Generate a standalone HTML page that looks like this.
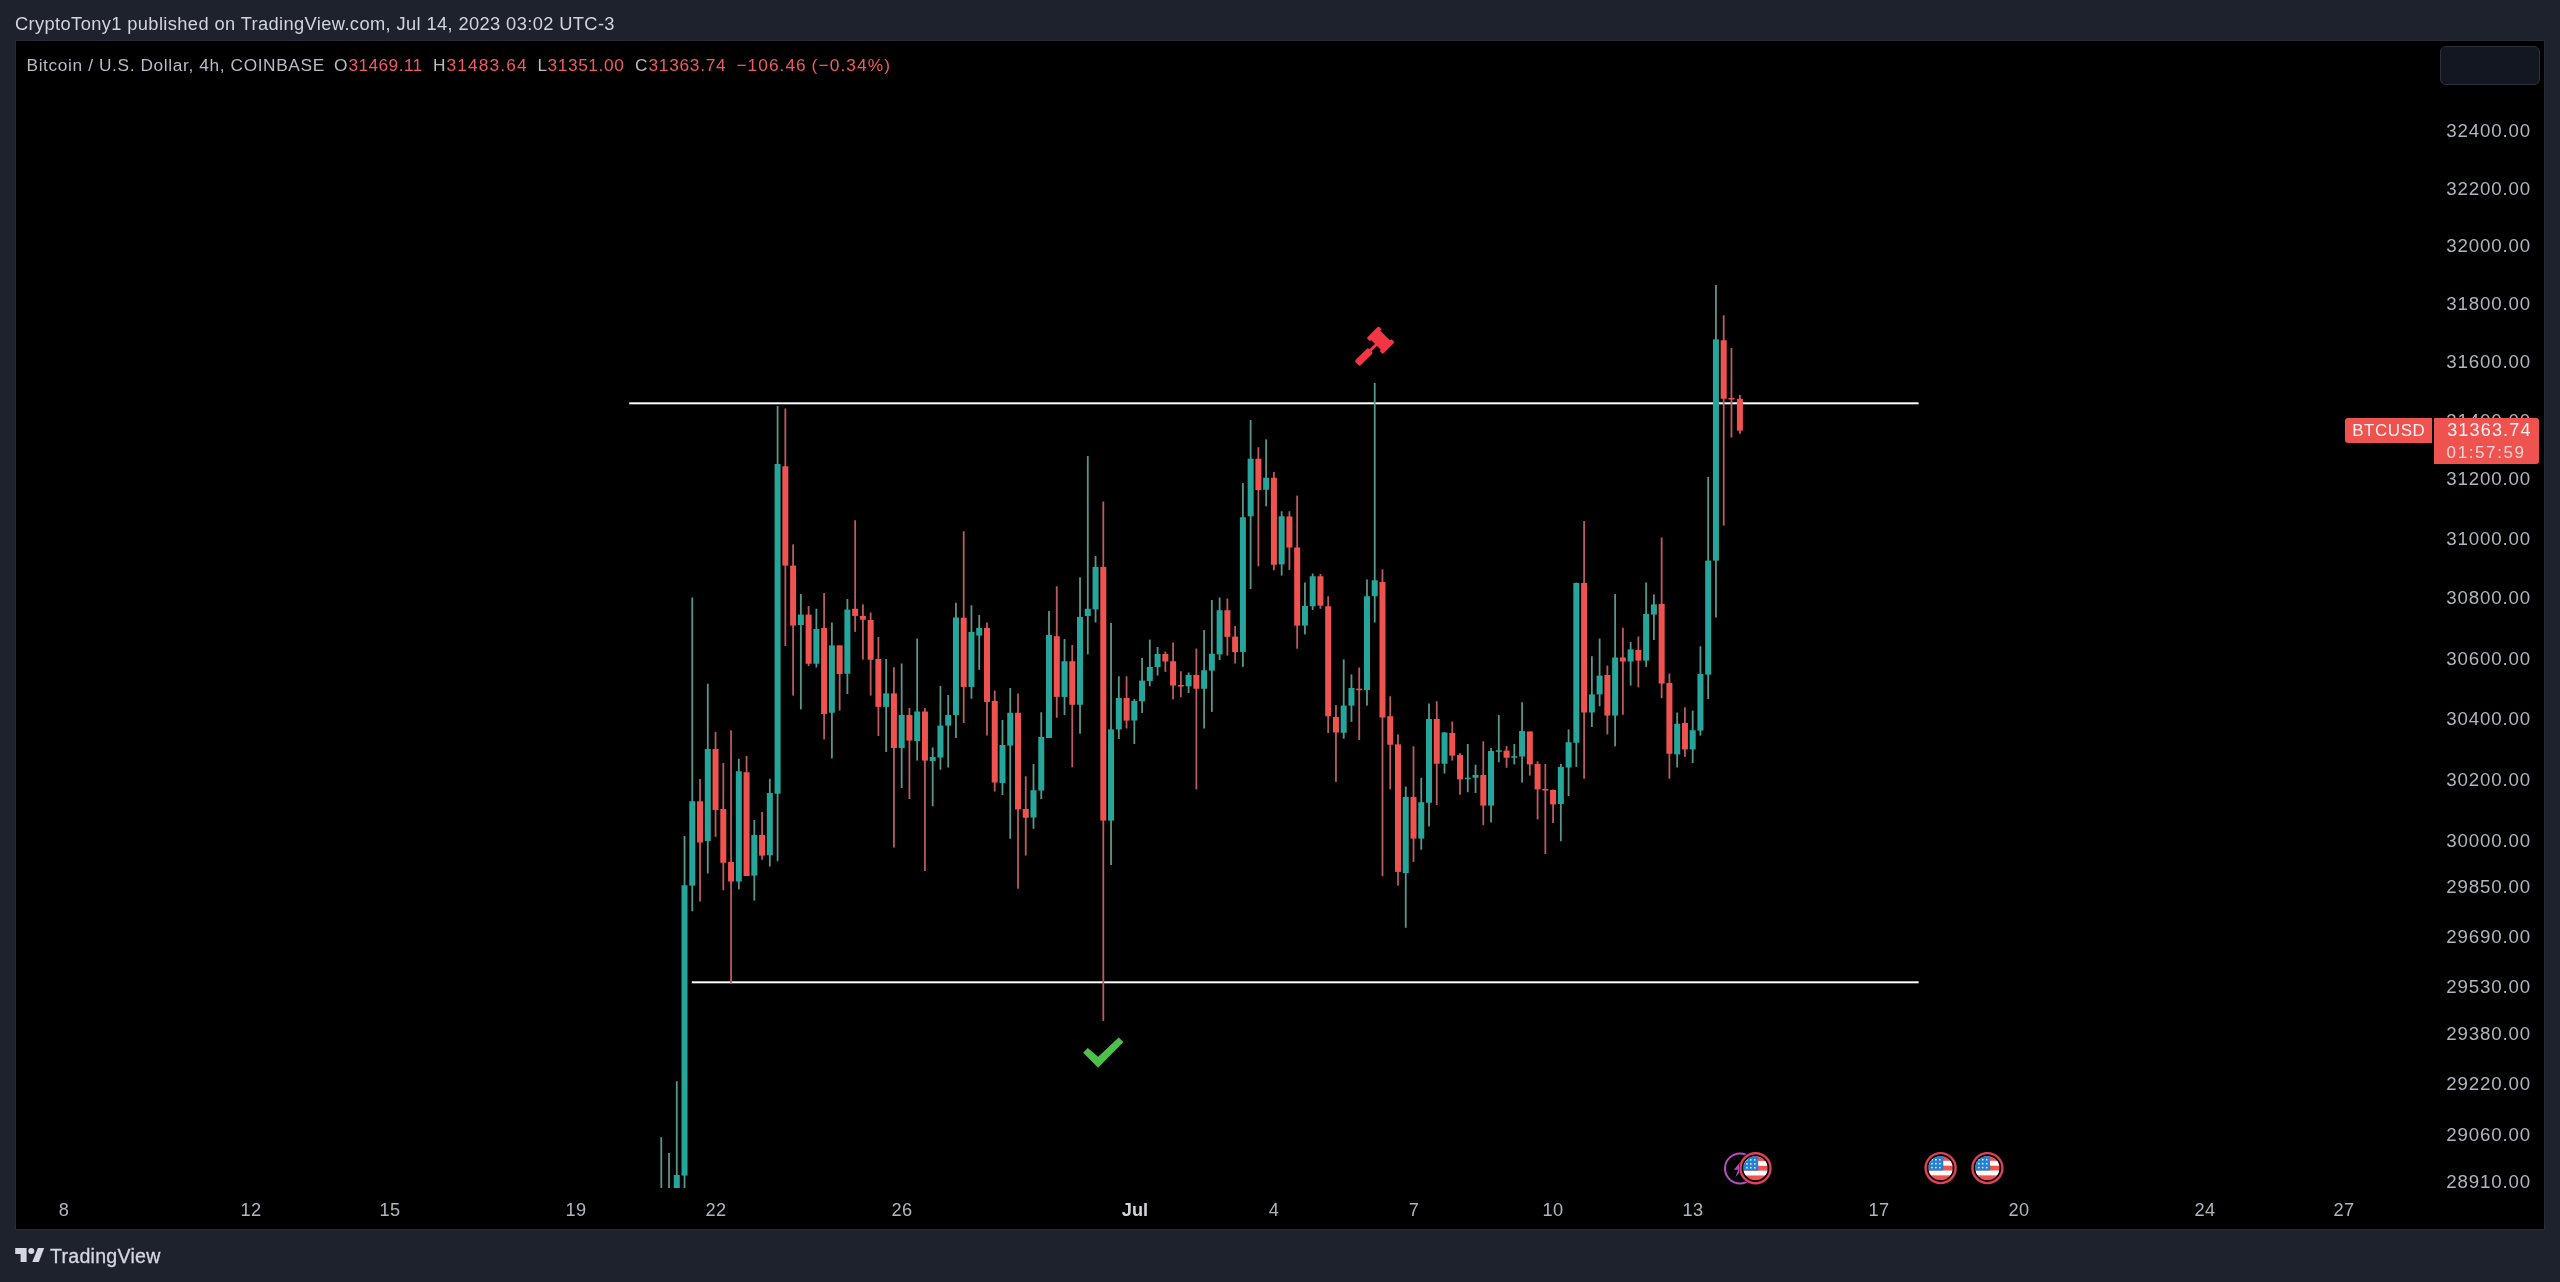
<!DOCTYPE html>
<html><head><meta charset="utf-8"><title>BTCUSD</title>
<style>
html,body{margin:0;padding:0;}
body{width:2560px;height:1282px;background:#1e222d;position:relative;overflow:hidden;font-family:"Liberation Sans",sans-serif;}
#chart{position:absolute;left:15px;top:40px;width:2528.3px;height:1188px;background:#000;border:1px solid #282c37;}
#hdr{position:absolute;left:15px;top:12.8px;font-size:18.3px;color:#d1d4dc;white-space:nowrap;letter-spacing:0.38px;line-height:22px;}
#leg{position:absolute;left:27px;top:53.5px;font-size:17.3px;color:#b9bcc5;white-space:nowrap;line-height:22px;}
#leg span{position:absolute;top:0;}
#leg .r{color:#ee5b62;letter-spacing:0.3px;}
.pl{position:absolute;left:2431px;width:100px;text-align:right;font-size:18.7px;line-height:24px;color:#b2b5be;letter-spacing:0.85px;white-space:nowrap;}
.tl{position:absolute;top:1198px;width:80px;text-align:center;font-size:18.2px;line-height:24px;color:#b2b5be;letter-spacing:0.4px;}
.tl.b{font-weight:bold;color:#d1d4dc;letter-spacing:0;}
#btn{position:absolute;left:2439.5px;top:46px;width:98px;height:36.7px;border:1px solid #2c303b;border-radius:6px;background:#131722;}
#sym{position:absolute;left:2345.3px;top:417.7px;width:87px;height:25.3px;background:#ef5350;border-radius:3px 0 0 3px;color:#fdf1f1;font-size:16.9px;line-height:25.6px;text-align:center;letter-spacing:0.62px;text-indent:0.6px;}
#prc{position:absolute;left:2434px;top:417.7px;width:105px;height:46.3px;background:#ef5350;border-radius:0 3px 3px 0;color:#fdf1f1;line-height:21px;}
#prc div{position:absolute;left:13px;white-space:nowrap;}
#tv{position:absolute;left:50px;top:1244px;font-size:19.6px;line-height:24px;color:#d5d8e0;letter-spacing:0.25px;-webkit-text-stroke:0.3px #d5d8e0;}
svg{position:absolute;left:0;top:0;}
#hdr,#leg,.pl,.tl,#sym,#prc,#tv{will-change:transform;}
</style></head><body>
<div id="hdr">CryptoTony1 published on TradingView.com, Jul 14, 2023 03:02 UTC-3</div>
<div id="chart"></div>
<div id="leg"><span style="left:-0.5px;letter-spacing:0.62px">Bitcoin / U.S. Dollar, 4h, COINBASE</span><span style="left:307px">O</span><span class="r" style="left:321.5px;letter-spacing:0.42px">31469.11</span><span style="left:406px">H</span><span class="r" style="left:419.5px;letter-spacing:1.15px">31483.64</span><span style="left:510.5px">L</span><span class="r" style="left:520.5px;letter-spacing:0.6px">31351.00</span><span style="left:608px">C</span><span class="r" style="left:621.5px;letter-spacing:0.73px">31363.74</span><span class="r" style="left:709.5px;letter-spacing:1.03px">&#8722;106.46</span><span class="r" style="left:784.5px;letter-spacing:1.14px">(&#8722;0.34%)</span></div>
<div id="btn"></div>
<div class="pl" style="top:119.4px">32400.00</div>
<div class="pl" style="top:176.5px">32200.00</div>
<div class="pl" style="top:234.0px">32000.00</div>
<div class="pl" style="top:291.8px">31800.00</div>
<div class="pl" style="top:350.0px">31600.00</div>
<div class="pl" style="top:408.5px">31400.00</div>
<div class="pl" style="top:467.4px">31200.00</div>
<div class="pl" style="top:526.7px">31000.00</div>
<div class="pl" style="top:586.4px">30800.00</div>
<div class="pl" style="top:646.5px">30600.00</div>
<div class="pl" style="top:707.0px">30400.00</div>
<div class="pl" style="top:767.9px">30200.00</div>
<div class="pl" style="top:829.1px">30000.00</div>
<div class="pl" style="top:875.4px">29850.00</div>
<div class="pl" style="top:924.9px">29690.00</div>
<div class="pl" style="top:974.8px">29530.00</div>
<div class="pl" style="top:1021.7px">29380.00</div>
<div class="pl" style="top:1072.1px">29220.00</div>
<div class="pl" style="top:1122.7px">29060.00</div>
<div class="pl" style="top:1170.4px">28910.00</div>
<div class="tl" style="left:24.4px">8</div>
<div class="tl" style="left:210.5px">12</div>
<div class="tl" style="left:350.1px">15</div>
<div class="tl" style="left:536.3px">19</div>
<div class="tl" style="left:675.8px">22</div>
<div class="tl" style="left:862.0px">26</div>
<div class="tl b" style="left:1094.6px">Jul</div>
<div class="tl" style="left:1234.2px">4</div>
<div class="tl" style="left:1373.8px">7</div>
<div class="tl" style="left:1513.4px">10</div>
<div class="tl" style="left:1653.0px">13</div>
<div class="tl" style="left:1839.1px">17</div>
<div class="tl" style="left:1978.7px">20</div>
<div class="tl" style="left:2164.8px">24</div>
<div class="tl" style="left:2304.4px">27</div>
<svg width="2560" height="1282" viewBox="0 0 2560 1282">
<rect x="629.2" y="402.3" width="1289.4" height="2" fill="#fff"/>
<rect x="691.8" y="981.3" width="1226.8" height="2" fill="#fff"/>
<rect x="660.37" y="1137.25" width="1.8" height="50.75" fill="#5a958a"/>
<rect x="668.12" y="1153.00" width="1.8" height="35.00" fill="#5a958a"/>
<rect x="675.88" y="1081.25" width="1.8" height="106.75" fill="#5a958a"/>
<rect x="673.77" y="1175.00" width="6.0" height="13.00" fill="#26a69a"/>
<rect x="683.63" y="836.00" width="1.8" height="352.00" fill="#5a958a"/>
<rect x="681.53" y="885.25" width="6.0" height="290.35" fill="#26a69a"/>
<rect x="691.38" y="597.50" width="1.8" height="313.75" fill="#5a958a"/>
<rect x="689.28" y="801.25" width="6.0" height="84.35" fill="#26a69a"/>
<rect x="699.14" y="779.00" width="1.8" height="122.50" fill="#b85c60"/>
<rect x="697.04" y="801.25" width="6.0" height="41.25" fill="#ef5350"/>
<rect x="706.89" y="683.75" width="1.8" height="189.75" fill="#5a958a"/>
<rect x="704.79" y="749.00" width="6.0" height="92.00" fill="#26a69a"/>
<rect x="714.65" y="731.90" width="1.8" height="105.00" fill="#b85c60"/>
<rect x="712.55" y="749.00" width="6.0" height="61.00" fill="#ef5350"/>
<rect x="722.40" y="763.00" width="1.8" height="127.25" fill="#b85c60"/>
<rect x="720.30" y="809.00" width="6.0" height="53.75" fill="#ef5350"/>
<rect x="730.16" y="730.25" width="1.8" height="253.50" fill="#b85c60"/>
<rect x="728.06" y="862.00" width="6.0" height="19.50" fill="#ef5350"/>
<rect x="737.91" y="758.75" width="1.8" height="130.65" fill="#5a958a"/>
<rect x="735.81" y="771.25" width="6.0" height="110.25" fill="#26a69a"/>
<rect x="745.67" y="755.90" width="1.8" height="120.10" fill="#b85c60"/>
<rect x="743.57" y="772.25" width="6.0" height="103.75" fill="#ef5350"/>
<rect x="753.42" y="820.00" width="1.8" height="80.60" fill="#5a958a"/>
<rect x="751.32" y="835.00" width="6.0" height="40.60" fill="#26a69a"/>
<rect x="761.18" y="811.90" width="1.8" height="47.85" fill="#b85c60"/>
<rect x="759.08" y="835.00" width="6.0" height="20.60" fill="#ef5350"/>
<rect x="768.93" y="778.75" width="1.8" height="87.75" fill="#5a958a"/>
<rect x="766.83" y="793.00" width="6.0" height="62.25" fill="#26a69a"/>
<rect x="776.69" y="406.00" width="1.8" height="455.25" fill="#5a958a"/>
<rect x="774.59" y="464.00" width="6.0" height="329.75" fill="#26a69a"/>
<rect x="784.44" y="408.50" width="1.8" height="237.50" fill="#b85c60"/>
<rect x="782.34" y="466.25" width="6.0" height="99.35" fill="#ef5350"/>
<rect x="792.20" y="544.40" width="1.8" height="151.20" fill="#b85c60"/>
<rect x="790.10" y="565.60" width="6.0" height="60.00" fill="#ef5350"/>
<rect x="799.95" y="594.00" width="1.8" height="115.40" fill="#5a958a"/>
<rect x="797.85" y="614.60" width="6.0" height="10.40" fill="#26a69a"/>
<rect x="807.71" y="606.00" width="1.8" height="60.00" fill="#b85c60"/>
<rect x="805.61" y="614.60" width="6.0" height="49.15" fill="#ef5350"/>
<rect x="815.47" y="608.75" width="1.8" height="58.75" fill="#5a958a"/>
<rect x="813.37" y="629.00" width="6.0" height="34.75" fill="#26a69a"/>
<rect x="823.22" y="593.00" width="1.8" height="146.40" fill="#b85c60"/>
<rect x="821.12" y="628.00" width="6.0" height="86.00" fill="#ef5350"/>
<rect x="830.98" y="622.50" width="1.8" height="136.00" fill="#5a958a"/>
<rect x="828.88" y="645.40" width="6.0" height="67.35" fill="#26a69a"/>
<rect x="838.73" y="645.40" width="1.8" height="65.20" fill="#b85c60"/>
<rect x="836.63" y="645.40" width="6.0" height="28.60" fill="#ef5350"/>
<rect x="846.49" y="599.00" width="1.8" height="95.00" fill="#5a958a"/>
<rect x="844.38" y="609.60" width="6.0" height="64.15" fill="#26a69a"/>
<rect x="854.24" y="520.25" width="1.8" height="111.65" fill="#b85c60"/>
<rect x="852.14" y="608.75" width="6.0" height="7.15" fill="#ef5350"/>
<rect x="862.00" y="604.40" width="1.8" height="55.20" fill="#b85c60"/>
<rect x="859.89" y="615.90" width="6.0" height="3.85" fill="#ef5350"/>
<rect x="869.75" y="612.50" width="1.8" height="83.10" fill="#b85c60"/>
<rect x="867.65" y="620.00" width="6.0" height="39.75" fill="#ef5350"/>
<rect x="877.50" y="637.00" width="1.8" height="99.00" fill="#b85c60"/>
<rect x="875.40" y="659.00" width="6.0" height="47.90" fill="#ef5350"/>
<rect x="885.26" y="659.00" width="1.8" height="92.90" fill="#5a958a"/>
<rect x="883.16" y="693.40" width="6.0" height="13.50" fill="#26a69a"/>
<rect x="893.01" y="667.25" width="1.8" height="180.25" fill="#b85c60"/>
<rect x="890.91" y="693.40" width="6.0" height="54.60" fill="#ef5350"/>
<rect x="900.77" y="663.50" width="1.8" height="124.50" fill="#5a958a"/>
<rect x="898.67" y="715.00" width="6.0" height="33.00" fill="#26a69a"/>
<rect x="908.52" y="708.00" width="1.8" height="91.00" fill="#b85c60"/>
<rect x="906.42" y="715.00" width="6.0" height="25.60" fill="#ef5350"/>
<rect x="916.28" y="638.50" width="1.8" height="122.10" fill="#5a958a"/>
<rect x="914.18" y="711.50" width="6.0" height="29.50" fill="#26a69a"/>
<rect x="924.03" y="708.00" width="1.8" height="163.00" fill="#b85c60"/>
<rect x="921.93" y="711.50" width="6.0" height="49.10" fill="#ef5350"/>
<rect x="931.79" y="747.50" width="1.8" height="58.75" fill="#5a958a"/>
<rect x="929.69" y="757.00" width="6.0" height="4.00" fill="#26a69a"/>
<rect x="939.54" y="686.00" width="1.8" height="83.75" fill="#5a958a"/>
<rect x="937.44" y="725.60" width="6.0" height="31.90" fill="#26a69a"/>
<rect x="947.30" y="695.00" width="1.8" height="72.50" fill="#5a958a"/>
<rect x="945.20" y="715.00" width="6.0" height="10.60" fill="#26a69a"/>
<rect x="955.05" y="602.75" width="1.8" height="135.25" fill="#5a958a"/>
<rect x="952.95" y="617.50" width="6.0" height="97.50" fill="#26a69a"/>
<rect x="962.81" y="531.25" width="1.8" height="191.75" fill="#b85c60"/>
<rect x="960.71" y="617.75" width="6.0" height="69.15" fill="#ef5350"/>
<rect x="970.56" y="605.25" width="1.8" height="93.50" fill="#5a958a"/>
<rect x="968.46" y="631.90" width="6.0" height="55.00" fill="#26a69a"/>
<rect x="978.32" y="615.00" width="1.8" height="54.75" fill="#5a958a"/>
<rect x="976.22" y="628.00" width="6.0" height="7.60" fill="#26a69a"/>
<rect x="986.07" y="622.50" width="1.8" height="113.10" fill="#b85c60"/>
<rect x="983.97" y="628.00" width="6.0" height="73.90" fill="#ef5350"/>
<rect x="993.83" y="690.60" width="1.8" height="100.90" fill="#b85c60"/>
<rect x="991.73" y="701.00" width="6.0" height="81.50" fill="#ef5350"/>
<rect x="1001.58" y="720.00" width="1.8" height="75.00" fill="#5a958a"/>
<rect x="999.48" y="745.00" width="6.0" height="38.00" fill="#26a69a"/>
<rect x="1009.34" y="688.00" width="1.8" height="150.75" fill="#5a958a"/>
<rect x="1007.24" y="712.75" width="6.0" height="32.85" fill="#26a69a"/>
<rect x="1017.09" y="693.50" width="1.8" height="195.25" fill="#b85c60"/>
<rect x="1014.99" y="712.75" width="6.0" height="96.65" fill="#ef5350"/>
<rect x="1024.85" y="776.25" width="1.8" height="79.35" fill="#b85c60"/>
<rect x="1022.75" y="809.00" width="6.0" height="8.75" fill="#ef5350"/>
<rect x="1032.60" y="764.00" width="1.8" height="64.75" fill="#5a958a"/>
<rect x="1030.50" y="790.25" width="6.0" height="27.25" fill="#26a69a"/>
<rect x="1040.36" y="712.25" width="1.8" height="86.75" fill="#5a958a"/>
<rect x="1038.26" y="737.00" width="6.0" height="53.60" fill="#26a69a"/>
<rect x="1048.11" y="611.00" width="1.8" height="127.00" fill="#5a958a"/>
<rect x="1046.01" y="635.00" width="6.0" height="103.00" fill="#26a69a"/>
<rect x="1055.87" y="586.25" width="1.8" height="131.50" fill="#b85c60"/>
<rect x="1053.77" y="636.25" width="6.0" height="60.65" fill="#ef5350"/>
<rect x="1063.62" y="639.00" width="1.8" height="76.00" fill="#5a958a"/>
<rect x="1061.53" y="661.25" width="6.0" height="35.65" fill="#26a69a"/>
<rect x="1071.38" y="645.00" width="1.8" height="122.25" fill="#b85c60"/>
<rect x="1069.28" y="661.25" width="6.0" height="43.50" fill="#ef5350"/>
<rect x="1079.13" y="577.25" width="1.8" height="156.50" fill="#5a958a"/>
<rect x="1077.03" y="616.90" width="6.0" height="87.85" fill="#26a69a"/>
<rect x="1086.89" y="456.00" width="1.8" height="198.40" fill="#5a958a"/>
<rect x="1084.79" y="608.75" width="6.0" height="7.25" fill="#26a69a"/>
<rect x="1094.64" y="556.00" width="1.8" height="66.50" fill="#5a958a"/>
<rect x="1092.55" y="566.90" width="6.0" height="42.50" fill="#26a69a"/>
<rect x="1102.40" y="501.50" width="1.8" height="519.50" fill="#b85c60"/>
<rect x="1100.30" y="566.90" width="6.0" height="253.70" fill="#ef5350"/>
<rect x="1110.15" y="623.00" width="1.8" height="242.00" fill="#5a958a"/>
<rect x="1108.05" y="729.40" width="6.0" height="91.20" fill="#26a69a"/>
<rect x="1117.91" y="676.25" width="1.8" height="62.75" fill="#5a958a"/>
<rect x="1115.81" y="698.00" width="6.0" height="31.40" fill="#26a69a"/>
<rect x="1125.66" y="676.25" width="1.8" height="52.25" fill="#b85c60"/>
<rect x="1123.57" y="698.00" width="6.0" height="22.60" fill="#ef5350"/>
<rect x="1133.42" y="699.00" width="1.8" height="45.00" fill="#5a958a"/>
<rect x="1131.32" y="701.00" width="6.0" height="19.50" fill="#26a69a"/>
<rect x="1141.17" y="658.00" width="1.8" height="55.00" fill="#5a958a"/>
<rect x="1139.07" y="680.60" width="6.0" height="20.65" fill="#26a69a"/>
<rect x="1148.93" y="639.60" width="1.8" height="46.65" fill="#5a958a"/>
<rect x="1146.83" y="667.00" width="6.0" height="14.00" fill="#26a69a"/>
<rect x="1156.68" y="647.00" width="1.8" height="28.60" fill="#5a958a"/>
<rect x="1154.59" y="654.00" width="6.0" height="13.00" fill="#26a69a"/>
<rect x="1164.44" y="651.60" width="1.8" height="20.30" fill="#b85c60"/>
<rect x="1162.34" y="654.00" width="6.0" height="7.50" fill="#ef5350"/>
<rect x="1172.19" y="642.50" width="1.8" height="56.90" fill="#b85c60"/>
<rect x="1170.10" y="661.25" width="6.0" height="24.35" fill="#ef5350"/>
<rect x="1179.95" y="671.25" width="1.8" height="26.00" fill="#b85c60"/>
<rect x="1177.85" y="685.00" width="6.0" height="1.50" fill="#ef5350"/>
<rect x="1187.70" y="672.50" width="1.8" height="20.50" fill="#5a958a"/>
<rect x="1185.61" y="675.00" width="6.0" height="11.25" fill="#26a69a"/>
<rect x="1195.46" y="648.50" width="1.8" height="140.90" fill="#b85c60"/>
<rect x="1193.36" y="675.00" width="6.0" height="13.75" fill="#ef5350"/>
<rect x="1203.21" y="630.00" width="1.8" height="98.50" fill="#5a958a"/>
<rect x="1201.12" y="670.25" width="6.0" height="18.50" fill="#26a69a"/>
<rect x="1210.97" y="600.00" width="1.8" height="111.90" fill="#5a958a"/>
<rect x="1208.87" y="653.75" width="6.0" height="16.85" fill="#26a69a"/>
<rect x="1218.72" y="597.50" width="1.8" height="62.50" fill="#5a958a"/>
<rect x="1216.62" y="610.25" width="6.0" height="44.15" fill="#26a69a"/>
<rect x="1226.48" y="598.50" width="1.8" height="57.10" fill="#b85c60"/>
<rect x="1224.38" y="610.25" width="6.0" height="26.65" fill="#ef5350"/>
<rect x="1234.23" y="625.90" width="1.8" height="37.60" fill="#b85c60"/>
<rect x="1232.13" y="636.60" width="6.0" height="15.40" fill="#ef5350"/>
<rect x="1241.99" y="483.00" width="1.8" height="183.90" fill="#5a958a"/>
<rect x="1239.89" y="517.25" width="6.0" height="134.65" fill="#26a69a"/>
<rect x="1249.74" y="420.00" width="1.8" height="169.00" fill="#5a958a"/>
<rect x="1247.64" y="458.75" width="6.0" height="57.50" fill="#26a69a"/>
<rect x="1257.50" y="447.25" width="1.8" height="119.00" fill="#b85c60"/>
<rect x="1255.40" y="458.75" width="6.0" height="31.25" fill="#ef5350"/>
<rect x="1265.25" y="439.40" width="1.8" height="66.85" fill="#5a958a"/>
<rect x="1263.15" y="477.75" width="6.0" height="12.00" fill="#26a69a"/>
<rect x="1273.01" y="471.90" width="1.8" height="98.35" fill="#b85c60"/>
<rect x="1270.91" y="477.75" width="6.0" height="87.00" fill="#ef5350"/>
<rect x="1280.76" y="511.25" width="1.8" height="64.35" fill="#5a958a"/>
<rect x="1278.66" y="516.25" width="6.0" height="48.15" fill="#26a69a"/>
<rect x="1288.52" y="511.25" width="1.8" height="58.75" fill="#b85c60"/>
<rect x="1286.42" y="516.50" width="6.0" height="31.00" fill="#ef5350"/>
<rect x="1296.27" y="495.60" width="1.8" height="153.15" fill="#b85c60"/>
<rect x="1294.17" y="547.50" width="6.0" height="78.10" fill="#ef5350"/>
<rect x="1304.03" y="582.50" width="1.8" height="51.90" fill="#5a958a"/>
<rect x="1301.93" y="605.90" width="6.0" height="19.70" fill="#26a69a"/>
<rect x="1311.78" y="573.50" width="1.8" height="36.50" fill="#5a958a"/>
<rect x="1309.68" y="576.25" width="6.0" height="30.00" fill="#26a69a"/>
<rect x="1319.54" y="574.00" width="1.8" height="34.75" fill="#b85c60"/>
<rect x="1317.44" y="576.25" width="6.0" height="29.35" fill="#ef5350"/>
<rect x="1327.29" y="596.25" width="1.8" height="136.75" fill="#b85c60"/>
<rect x="1325.19" y="606.25" width="6.0" height="110.00" fill="#ef5350"/>
<rect x="1335.05" y="705.00" width="1.8" height="76.90" fill="#b85c60"/>
<rect x="1332.95" y="716.90" width="6.0" height="15.60" fill="#ef5350"/>
<rect x="1342.80" y="659.40" width="1.8" height="79.35" fill="#5a958a"/>
<rect x="1340.70" y="705.60" width="6.0" height="27.15" fill="#26a69a"/>
<rect x="1350.56" y="674.40" width="1.8" height="47.50" fill="#5a958a"/>
<rect x="1348.46" y="688.00" width="6.0" height="17.60" fill="#26a69a"/>
<rect x="1358.31" y="667.50" width="1.8" height="72.50" fill="#b85c60"/>
<rect x="1356.21" y="688.70" width="6.0" height="1.50" fill="#ef5350"/>
<rect x="1366.07" y="579.40" width="1.8" height="126.20" fill="#5a958a"/>
<rect x="1363.97" y="596.25" width="6.0" height="93.75" fill="#26a69a"/>
<rect x="1373.82" y="383.00" width="1.8" height="239.50" fill="#5a958a"/>
<rect x="1371.72" y="580.25" width="6.0" height="16.00" fill="#26a69a"/>
<rect x="1381.58" y="569.40" width="1.8" height="306.85" fill="#b85c60"/>
<rect x="1379.48" y="582.00" width="6.0" height="135.50" fill="#ef5350"/>
<rect x="1389.33" y="696.25" width="1.8" height="93.15" fill="#b85c60"/>
<rect x="1387.23" y="716.25" width="6.0" height="28.50" fill="#ef5350"/>
<rect x="1397.09" y="734.40" width="1.8" height="151.20" fill="#b85c60"/>
<rect x="1394.99" y="744.40" width="6.0" height="127.50" fill="#ef5350"/>
<rect x="1404.84" y="786.50" width="1.8" height="141.25" fill="#5a958a"/>
<rect x="1402.74" y="796.90" width="6.0" height="76.10" fill="#26a69a"/>
<rect x="1412.60" y="746.25" width="1.8" height="115.65" fill="#b85c60"/>
<rect x="1410.50" y="796.90" width="6.0" height="41.70" fill="#ef5350"/>
<rect x="1420.36" y="777.75" width="1.8" height="72.00" fill="#5a958a"/>
<rect x="1418.26" y="802.25" width="6.0" height="36.35" fill="#26a69a"/>
<rect x="1428.11" y="703.50" width="1.8" height="123.00" fill="#5a958a"/>
<rect x="1426.01" y="719.00" width="6.0" height="83.75" fill="#26a69a"/>
<rect x="1435.86" y="701.25" width="1.8" height="103.75" fill="#b85c60"/>
<rect x="1433.76" y="719.00" width="6.0" height="44.75" fill="#ef5350"/>
<rect x="1443.62" y="732.00" width="1.8" height="41.50" fill="#5a958a"/>
<rect x="1441.52" y="732.50" width="6.0" height="31.25" fill="#26a69a"/>
<rect x="1451.38" y="721.50" width="1.8" height="39.10" fill="#b85c60"/>
<rect x="1449.28" y="733.00" width="6.0" height="22.60" fill="#ef5350"/>
<rect x="1459.13" y="753.00" width="1.8" height="41.75" fill="#b85c60"/>
<rect x="1457.03" y="755.00" width="6.0" height="24.40" fill="#ef5350"/>
<rect x="1466.88" y="744.00" width="1.8" height="48.25" fill="#5a958a"/>
<rect x="1464.78" y="777.70" width="6.0" height="1.50" fill="#26a69a"/>
<rect x="1474.64" y="764.75" width="1.8" height="28.25" fill="#5a958a"/>
<rect x="1472.54" y="775.00" width="6.0" height="2.75" fill="#26a69a"/>
<rect x="1482.39" y="741.25" width="1.8" height="84.00" fill="#b85c60"/>
<rect x="1480.30" y="775.00" width="6.0" height="30.60" fill="#ef5350"/>
<rect x="1490.15" y="748.00" width="1.8" height="74.50" fill="#5a958a"/>
<rect x="1488.05" y="751.00" width="6.0" height="54.60" fill="#26a69a"/>
<rect x="1497.90" y="715.00" width="1.8" height="47.25" fill="#5a958a"/>
<rect x="1495.80" y="750.30" width="6.0" height="1.50" fill="#26a69a"/>
<rect x="1505.66" y="746.00" width="1.8" height="21.75" fill="#b85c60"/>
<rect x="1503.56" y="750.60" width="6.0" height="7.15" fill="#ef5350"/>
<rect x="1513.41" y="744.00" width="1.8" height="20.40" fill="#5a958a"/>
<rect x="1511.32" y="756.20" width="6.0" height="1.50" fill="#26a69a"/>
<rect x="1521.17" y="702.25" width="1.8" height="80.25" fill="#5a958a"/>
<rect x="1519.07" y="731.00" width="6.0" height="25.50" fill="#26a69a"/>
<rect x="1528.92" y="731.50" width="1.8" height="44.10" fill="#b85c60"/>
<rect x="1526.82" y="731.50" width="6.0" height="32.90" fill="#ef5350"/>
<rect x="1536.68" y="761.25" width="1.8" height="58.15" fill="#b85c60"/>
<rect x="1534.58" y="764.00" width="6.0" height="25.40" fill="#ef5350"/>
<rect x="1544.43" y="764.00" width="1.8" height="90.00" fill="#b85c60"/>
<rect x="1542.34" y="789.00" width="6.0" height="1.50" fill="#ef5350"/>
<rect x="1552.19" y="789.50" width="1.8" height="33.50" fill="#b85c60"/>
<rect x="1550.09" y="790.00" width="6.0" height="14.40" fill="#ef5350"/>
<rect x="1559.94" y="764.00" width="1.8" height="77.25" fill="#5a958a"/>
<rect x="1557.84" y="766.90" width="6.0" height="37.10" fill="#26a69a"/>
<rect x="1567.70" y="729.40" width="1.8" height="66.60" fill="#5a958a"/>
<rect x="1565.60" y="742.25" width="6.0" height="25.25" fill="#26a69a"/>
<rect x="1575.45" y="582.50" width="1.8" height="184.40" fill="#5a958a"/>
<rect x="1573.36" y="583.00" width="6.0" height="159.75" fill="#26a69a"/>
<rect x="1583.21" y="521.00" width="1.8" height="257.75" fill="#b85c60"/>
<rect x="1581.11" y="583.00" width="6.0" height="129.50" fill="#ef5350"/>
<rect x="1590.96" y="656.25" width="1.8" height="70.75" fill="#5a958a"/>
<rect x="1588.86" y="694.40" width="6.0" height="18.10" fill="#26a69a"/>
<rect x="1598.72" y="638.50" width="1.8" height="67.75" fill="#5a958a"/>
<rect x="1596.62" y="675.60" width="6.0" height="18.80" fill="#26a69a"/>
<rect x="1606.47" y="665.60" width="1.8" height="68.80" fill="#b85c60"/>
<rect x="1604.38" y="675.00" width="6.0" height="40.60" fill="#ef5350"/>
<rect x="1614.23" y="594.00" width="1.8" height="152.25" fill="#5a958a"/>
<rect x="1612.13" y="657.50" width="6.0" height="58.10" fill="#26a69a"/>
<rect x="1621.98" y="627.75" width="1.8" height="87.00" fill="#b85c60"/>
<rect x="1619.88" y="657.50" width="6.0" height="4.00" fill="#ef5350"/>
<rect x="1629.74" y="641.90" width="1.8" height="43.70" fill="#5a958a"/>
<rect x="1627.64" y="649.40" width="6.0" height="12.10" fill="#26a69a"/>
<rect x="1637.49" y="636.50" width="1.8" height="50.90" fill="#b85c60"/>
<rect x="1635.39" y="650.00" width="6.0" height="10.60" fill="#ef5350"/>
<rect x="1645.25" y="582.50" width="1.8" height="84.40" fill="#5a958a"/>
<rect x="1643.15" y="614.00" width="6.0" height="46.60" fill="#26a69a"/>
<rect x="1653.00" y="594.40" width="1.8" height="45.60" fill="#5a958a"/>
<rect x="1650.90" y="604.40" width="6.0" height="10.20" fill="#26a69a"/>
<rect x="1660.76" y="537.50" width="1.8" height="160.75" fill="#b85c60"/>
<rect x="1658.66" y="604.00" width="6.0" height="79.60" fill="#ef5350"/>
<rect x="1668.51" y="673.50" width="1.8" height="105.25" fill="#b85c60"/>
<rect x="1666.41" y="683.00" width="6.0" height="70.75" fill="#ef5350"/>
<rect x="1676.27" y="712.50" width="1.8" height="55.00" fill="#5a958a"/>
<rect x="1674.17" y="723.75" width="6.0" height="30.65" fill="#26a69a"/>
<rect x="1684.02" y="707.25" width="1.8" height="49.65" fill="#b85c60"/>
<rect x="1681.92" y="723.00" width="6.0" height="26.40" fill="#ef5350"/>
<rect x="1691.78" y="710.60" width="1.8" height="52.40" fill="#5a958a"/>
<rect x="1689.68" y="730.25" width="6.0" height="19.15" fill="#26a69a"/>
<rect x="1699.53" y="646.25" width="1.8" height="89.35" fill="#5a958a"/>
<rect x="1697.43" y="674.00" width="6.0" height="56.60" fill="#26a69a"/>
<rect x="1707.29" y="476.90" width="1.8" height="222.10" fill="#5a958a"/>
<rect x="1705.19" y="560.60" width="6.0" height="114.00" fill="#26a69a"/>
<rect x="1715.04" y="285.00" width="1.8" height="332.50" fill="#5a958a"/>
<rect x="1712.94" y="339.40" width="6.0" height="221.20" fill="#26a69a"/>
<rect x="1722.80" y="315.25" width="1.8" height="210.35" fill="#b85c60"/>
<rect x="1720.70" y="340.25" width="6.0" height="58.50" fill="#ef5350"/>
<rect x="1730.55" y="348.00" width="1.8" height="89.50" fill="#b85c60"/>
<rect x="1728.45" y="398.00" width="6.0" height="1.50" fill="#ef5350"/>
<rect x="1739.01" y="395.00" width="1.8" height="38.75" fill="#b85c60"/>
<rect x="1736.91" y="398.75" width="6.0" height="31.85" fill="#ef5350"/>
<!-- gavel -->
<g transform="translate(1380.6,340.2) rotate(45)" fill="#f23645">
<rect x="-8" y="-6.6" width="16" height="13.2" />
<rect x="-11.4" y="-8.4" width="4.6" height="16.8" rx="1.3"/>
<rect x="6.8" y="-8.4" width="4.6" height="16.8" rx="1.3"/>
<rect x="-1.5" y="5" width="3" height="11"/>
<rect x="-3.7" y="14.3" width="7.4" height="19" rx="1.8"/>
</g>
<!-- check -->
<polygon points="1083.1,1052.8 1087.8,1048.1 1098.1,1056.8 1118.7,1037.5 1123.4,1042.1 1098.1,1067.7" fill="#4fbf4c"/>
<!-- event icons -->
<g transform="translate(1740,1168.5)"><circle r="15" fill="none" stroke="#b44fc6" stroke-width="2"/><path d="M2.5,-9 L-6.2,1.2 L-1.8,1.2 L-4.7,8.8 L4,-1.6 L-0.5,-1.6 Z" fill="#b44fc6"/></g>
<circle cx="1755.5" cy="1168.2" r="16.6" fill="#000"/>
<g transform="translate(1755.5,1168.2)"><circle r="15" fill="none" stroke="#e0405c" stroke-width="2.4"/><clipPath id="fc1755"><circle r="12.1"/></clipPath><g clip-path="url(#fc1755)"><rect x="-13" y="-13" width="26" height="26" fill="#f0524f"/><rect x="-13" y="-7.26" width="26" height="4.84" fill="#fff"/><rect x="-13" y="2.42" width="26" height="4.84" fill="#fff"/><rect x="-13" y="-13" width="15.70" height="15.42" fill="#2a7fd0"/><circle cx="-8.6" cy="-8.4" r="0.9" fill="#bff"/><circle cx="-4.7" cy="-8.4" r="0.9" fill="#bff"/><circle cx="-0.7" cy="-8.4" r="0.9" fill="#bff"/><circle cx="-8.6" cy="-4.4" r="0.9" fill="#bff"/><circle cx="-4.7" cy="-4.4" r="0.9" fill="#bff"/><circle cx="-0.7" cy="-4.4" r="0.9" fill="#bff"/><circle cx="-8.6" cy="-0.5" r="0.9" fill="#bff"/><circle cx="-4.7" cy="-0.5" r="0.9" fill="#bff"/><circle cx="-0.7" cy="-0.5" r="0.9" fill="#bff"/></g></g>
<g transform="translate(1940.6,1168.1)"><circle r="15" fill="none" stroke="#e0405c" stroke-width="2.4"/><clipPath id="fc1940"><circle r="12.1"/></clipPath><g clip-path="url(#fc1940)"><rect x="-13" y="-13" width="26" height="26" fill="#f0524f"/><rect x="-13" y="-7.26" width="26" height="4.84" fill="#fff"/><rect x="-13" y="2.42" width="26" height="4.84" fill="#fff"/><rect x="-13" y="-13" width="15.70" height="15.42" fill="#2a7fd0"/><circle cx="-8.6" cy="-8.4" r="0.9" fill="#bff"/><circle cx="-4.7" cy="-8.4" r="0.9" fill="#bff"/><circle cx="-0.7" cy="-8.4" r="0.9" fill="#bff"/><circle cx="-8.6" cy="-4.4" r="0.9" fill="#bff"/><circle cx="-4.7" cy="-4.4" r="0.9" fill="#bff"/><circle cx="-0.7" cy="-4.4" r="0.9" fill="#bff"/><circle cx="-8.6" cy="-0.5" r="0.9" fill="#bff"/><circle cx="-4.7" cy="-0.5" r="0.9" fill="#bff"/><circle cx="-0.7" cy="-0.5" r="0.9" fill="#bff"/></g></g>
<g transform="translate(1987.4,1168.1)"><circle r="15" fill="none" stroke="#e0405c" stroke-width="2.4"/><clipPath id="fc1987"><circle r="12.1"/></clipPath><g clip-path="url(#fc1987)"><rect x="-13" y="-13" width="26" height="26" fill="#f0524f"/><rect x="-13" y="-7.26" width="26" height="4.84" fill="#fff"/><rect x="-13" y="2.42" width="26" height="4.84" fill="#fff"/><rect x="-13" y="-13" width="15.70" height="15.42" fill="#2a7fd0"/><circle cx="-8.6" cy="-8.4" r="0.9" fill="#bff"/><circle cx="-4.7" cy="-8.4" r="0.9" fill="#bff"/><circle cx="-0.7" cy="-8.4" r="0.9" fill="#bff"/><circle cx="-8.6" cy="-4.4" r="0.9" fill="#bff"/><circle cx="-4.7" cy="-4.4" r="0.9" fill="#bff"/><circle cx="-0.7" cy="-4.4" r="0.9" fill="#bff"/><circle cx="-8.6" cy="-0.5" r="0.9" fill="#bff"/><circle cx="-4.7" cy="-0.5" r="0.9" fill="#bff"/><circle cx="-0.7" cy="-0.5" r="0.9" fill="#bff"/></g></g>
<!-- tv logo -->
<g fill="#d5d8e0"><path d="M15.2,1248 H26.6 V1262 H20.6 V1254 H15.2 Z"/><circle cx="31.3" cy="1250.9" r="3"/><path d="M37.9,1248 H44.2 L38.8,1262 H32.3 Z"/></g>
</svg>
<div id="sym">BTCUSD</div>
<div id="prc"><div style="top:2.3px;left:13.2px;font-size:18px;letter-spacing:1.17px">31363.74</div><div style="top:23.6px;left:12.6px;font-size:17px;letter-spacing:1.6px;opacity:0.82">01:57:59</div></div>
<div id="tv">TradingView</div>
</body></html>
